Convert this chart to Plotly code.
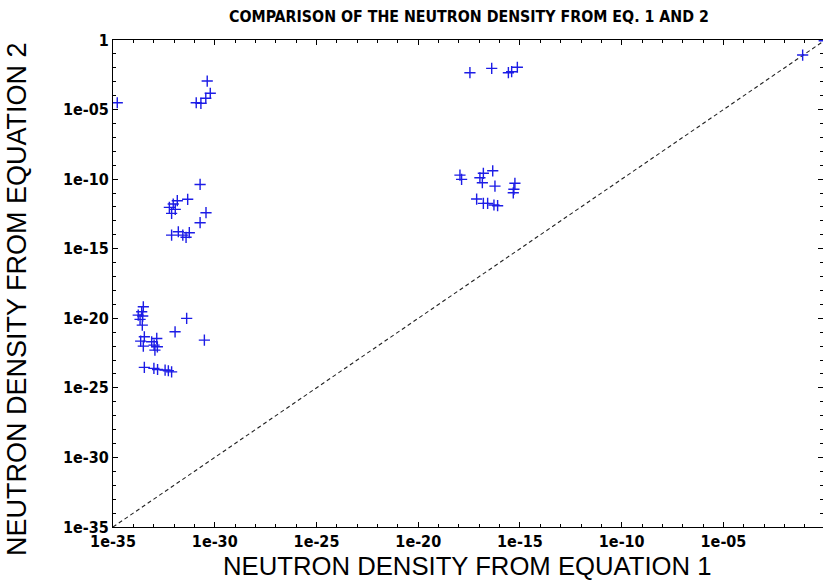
import numpy as np
import plotly.graph_objects as go

# log10 of neutron density: equation 1 (x) vs equation 2 (y)
eq1_log = [
    -34.79, -30.37, -30.22, -30.44, -30.68, -30.91,
    -30.72, -31.33, -31.84, -32.04, -32.23, -31.94, -32.12, -30.43, -30.72,
    -32.12, -31.79, -31.57, -31.41, -31.25,
    -33.51, -33.59, -33.76, -33.54, -33.67, -33.56, -31.38, -31.95, -30.51,
    -33.46, -33.64, -33.51, -33.10, -32.85, -32.98, -32.82, -32.94,
    -33.46, -32.99, -32.81, -32.44, -32.28, -32.12,
    -17.46, -16.39, -15.57, -15.41, -15.13,
    -17.95, -17.87, -16.97, -16.80, -16.34, -16.85, -16.23, -15.25, -15.30, -15.33,
    -17.13, -16.80, -16.59, -16.28, -16.10,
    -1.11, -0.05,
]
eq2_log = [
    -4.51, -2.95, -3.83, -4.19, -4.55, -4.51,
    -10.38, -11.45, -11.55, -11.79, -12.03, -12.17, -12.46, -12.41, -13.13,
    -14.02, -13.78, -14.02, -14.18, -13.85,
    -19.17, -19.53, -19.77, -19.84, -20.08, -20.49, -20.01, -20.97, -21.57,
    -21.33, -21.64, -22.00, -21.69, -21.45, -21.93, -22.05, -22.29,
    -23.53, -23.60, -23.68, -23.72, -23.77, -23.85,
    -2.35, -2.04, -2.35, -2.28, -1.96,
    -9.71, -10.02, -9.90, -9.58, -9.40, -10.26, -10.50, -10.30, -10.73, -10.98,
    -11.43, -11.74, -11.74, -11.86, -11.91,
    -1.08, -0.05,
]

major_exp = [-35, -30, -25, -20, -15, -10, -5, 0]
major_text = ["1e-35", "1e-30", "1e-25", "1e-20", "1e-15", "1e-10", "1e-05", "1"]
minor_exp = [e for e in range(-35, 1) if e % 5 != 0]

title_text = "COMPARISON OF THE NEUTRON DENSITY FROM EQ. 1 AND 2"
xlabel = "NEUTRON DENSITY FROM EQUATION 1"
ylabel = "NEUTRON DENSITY FROM EQUATION 2"

eq1 = [10.0 ** v for v in eq1_log]
eq2 = [10.0 ** v for v in eq2_log]

fig = go.Figure()

# y = x reference line
fig.add_trace(go.Scatter(
    x=[1e-35, 1.0], y=[1e-35, 1.0], mode="lines",
    line=dict(color="#222222", width=1.1, dash="4px,3px"),
    hoverinfo="skip", showlegend=False,
))

fig.add_trace(go.Scatter(
    x=eq1, y=eq2, mode="markers",
    marker=dict(symbol="cross-thin", size=8,
                line=dict(color="#1c1ce6", width=1.4)),
    showlegend=False,
))

narrow = "DejaVu Sans Condensed, Liberation Sans Narrow, sans-serif"
tick_font = dict(family=narrow, size=16, color="black", weight="bold")

axis_common = dict(
    type="log",
    showgrid=False, zeroline=False,
    showline=True, linecolor="black", linewidth=1, mirror="ticks",
    ticks="inside", ticklen=5, tickwidth=1, tickcolor="black",
    tickfont=tick_font,
    minor=dict(tickvals=[10.0 ** e for e in minor_exp], ticks="inside",
               ticklen=3, tickwidth=1, tickcolor="black", showgrid=False),
)

fig.update_layout(
    width=823, height=582,
    margin=dict(l=113, r=0, t=40, b=55),
    paper_bgcolor="white", plot_bgcolor="white",
    xaxis=dict(axis_common, range=[-35, -0.11],
               tickvals=[10.0 ** e for e in major_exp[:-1]],
               ticktext=major_text[:-1]),
    yaxis=dict(axis_common, range=[-35, 0],
               tickvals=[10.0 ** e for e in major_exp],
               ticktext=major_text),
    annotations=[
        dict(text=title_text, xref="paper", yref="paper",
             x=(469 - 113) / 710, y=(527 - 17) / 487,
             xanchor="center", yanchor="middle", showarrow=False,
             font=dict(family=narrow, size=15.8, color="black", weight="bold")),
        dict(text=xlabel, xref="paper", yref="paper",
             x=(467 - 113) / 710, y=(527 - 566) / 487,
             xanchor="center", yanchor="middle", showarrow=False,
             font=dict(family="Liberation Sans, Arial, sans-serif", size=25.7,
                       color="black")),
        dict(text=ylabel, xref="paper", yref="paper",
             x=(17 - 113) / 710, y=(527 - 299) / 487, textangle=-90,
             xanchor="center", yanchor="middle", showarrow=False,
             font=dict(family="Liberation Sans, Arial, sans-serif", size=27,
                       color="black")),
    ],
)

fig.write_html("out.html")
